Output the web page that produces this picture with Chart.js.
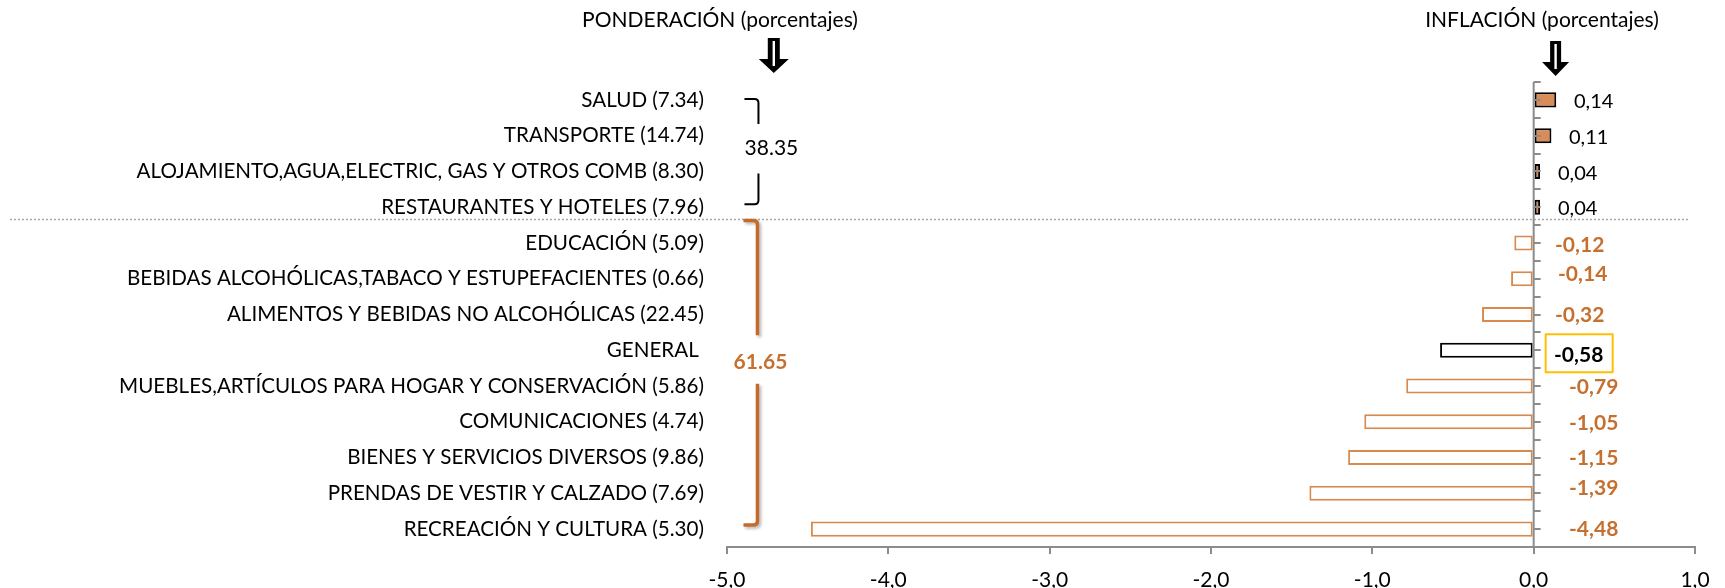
<!DOCTYPE html>
<html>
<head>
<meta charset="utf-8">
<script src="https://cdn.jsdelivr.net/npm/chart.js@4"></script>
<style>
  html, body { margin: 0; padding: 0; background: #fff; }
  #wrap { width: 1725px; height: 588px; position: relative; }
</style>
</head>
<body>
<div id="wrap"><canvas id="c" width="1725" height="588"></canvas></div>
<script>
// ---- data ----
const categories = [
  "SALUD (7.34)",
  "TRANSPORTE (14.74)",
  "ALOJAMIENTO,AGUA,ELECTRIC, GAS Y OTROS COMB (8.30)",
  "RESTAURANTES Y HOTELES (7.96)",
  "EDUCACIÓN (5.09)",
  "BEBIDAS ALCOHÓLICAS,TABACO Y ESTUPEFACIENTES (0.66)",
  "ALIMENTOS Y BEBIDAS NO ALCOHÓLICAS (22.45)",
  "GENERAL ",
  "MUEBLES,ARTÍCULOS PARA HOGAR Y CONSERVACIÓN (5.86)",
  "COMUNICACIONES (4.74)",
  "BIENES Y SERVICIOS DIVERSOS (9.86)",
  "PRENDAS DE VESTIR Y CALZADO (7.69)",
  "RECREACIÓN Y CULTURA (5.30)"
];
const inflation = [0.14, 0.11, 0.04, 0.04, -0.12, -0.14, -0.32, -0.58, -0.79, -1.05, -1.15, -1.39, -4.48];
const generalIndex = 7;
const xTicksMin = -5;
const xTicksMax = 1;
const groupUpperTotal = "38.35";
const groupLowerTotal = "61.65";
const titleLeft = "PONDERACIÓN (porcentajes)";
const titleRight = "INFLACIÓN (porcentajes)";

// ---- styles ----
const FONT = "Lato, 'Open Sans', 'Liberation Sans', sans-serif";
const ORANGE_FILL = '#D98C57';
const ORANGE_LINE = '#D88A4E';
const ORANGE_TEXT = '#C5702F';
const ORANGE_BRACKET = '#C46B2C';
const AXIS_GRAY = '#8c8c8c';

const fmt = v => v.toFixed(2).replace('.', ',');

const bg = inflation.map((v, i) => i === generalIndex ? '#ffffff' : (v >= 0 ? ORANGE_FILL : '#ffffff'));
const bd = inflation.map((v, i) => i === generalIndex ? '#000000' : (v >= 0 ? '#000000' : ORANGE_LINE));

// label offsets (pixels, from zero line / row centre) for data labels
const labelOffsets = [[60,2],[55,2],[44,2],[44,1],[46,2],[49,-4],[46,1],[45,5],[60,1],[60,1],[60,1],[60,-5],[60,0]];

const overlay = {
  id: 'overlay',
  afterDatasetsDraw(chart) {
    const ctx = chart.ctx;
    const xs = chart.scales.x, ys = chart.scales.y;
    const area = chart.chartArea;
    const x0 = xs.getPixelForValue(0);
    ctx.save();

    // zero axis line with ticks
    ctx.strokeStyle = AXIS_GRAY;
    ctx.lineWidth = 2;
    ctx.beginPath();
    ctx.moveTo(x0, area.top);
    ctx.lineTo(x0, area.bottom);
    for (let k = 0; k <= categories.length * 2; k++) {
      const y = Math.round(ys.getPixelForValue(-0.5 + k / 2));
      ctx.moveTo(x0, y);
      ctx.lineTo(x0 + 7, y);
    }
    ctx.stroke();

    // dotted separator
    const sepY = ys.getPixelForValue(3.5) - 5.5;
    ctx.strokeStyle = '#a6a6a6';
    ctx.lineWidth = 1.5;
    ctx.setLineDash([2, 2]);
    ctx.beginPath();
    ctx.moveTo(10, sepY);
    ctx.lineTo(xs.getPixelForValue(0.96), sepY);
    ctx.stroke();
    ctx.setLineDash([]);

    // brackets
    const bx = xs.getPixelForValue(-4.805);
    function bracket(x, top, bottom, g1, g2, color, w, hook) {
      const r = 4;
      ctx.strokeStyle = color;
      ctx.lineWidth = w;
      ctx.lineCap = 'butt';
      ctx.lineJoin = 'round';
      ctx.beginPath();
      ctx.moveTo(x - hook, top);
      ctx.lineTo(x - r, top);
      ctx.quadraticCurveTo(x, top, x, top + r);
      ctx.lineTo(x, g1);
      ctx.moveTo(x, g2);
      ctx.lineTo(x, bottom - r);
      ctx.quadraticCurveTo(x, bottom, x - r, bottom);
      ctx.lineTo(x - hook, bottom);
      ctx.stroke();
    }
    const yr = i => ys.getPixelForValue(i);
    bracket(bx, yr(0) - 1, yr(3) - 3, yr(0) + 24, yr(2) + 2, '#000', 2, 14);
    ctx.save();
    ctx.shadowColor = 'rgba(0,0,0,0.28)';
    ctx.shadowBlur = 3;
    ctx.shadowOffsetX = 2;
    ctx.shadowOffsetY = 2;
    bracket(bx - 1, sepY + 1, yr(12) - 4, yr(7) - 15, yr(9) - 38, ORANGE_BRACKET, 3.5, 14);
    ctx.restore();

    ctx.textBaseline = 'middle';
    ctx.textAlign = 'center';
    ctx.fillStyle = '#000';
    ctx.font = '21px ' + FONT;
    ctx.fillText(groupUpperTotal, bx + 13, yr(1) + 13);
    ctx.fillStyle = ORANGE_TEXT;
    ctx.font = 'bold 21px ' + FONT;
    ctx.fillText(groupLowerTotal, bx + 2, yr(7) + 12);

    // titles
    ctx.fillStyle = '#000';
    ctx.font = '21px ' + FONT;
    ctx.fillText(titleLeft, 720, 20);
    ctx.fillText(titleRight, 1542, 20);

    // arrows
    function arrow(cx, top, headStart, tip, shaftW, headW) {
      ctx.fillStyle = '#000';
      ctx.beginPath();
      ctx.moveTo(cx - shaftW / 2, top);
      ctx.lineTo(cx + shaftW / 2, top);
      ctx.lineTo(cx + shaftW / 2, headStart);
      ctx.lineTo(cx + headW / 2, headStart);
      ctx.lineTo(cx, tip);
      ctx.lineTo(cx - headW / 2, headStart);
      ctx.lineTo(cx - shaftW / 2, headStart);
      ctx.closePath();
      ctx.fill();
      ctx.fillStyle = '#fff';
      ctx.fillRect(cx - 1.2, top + 3, 2.4, headStart - top + 4);
    }
    arrow(xs.getPixelForValue(-4.71), 38, 59, 73, 12, 30);
    arrow(xs.getPixelForValue(0.136), 41, 62, 76, 11, 27);

    // data labels
    inflation.forEach((v, i) => {
      const [dx, dy] = labelOffsets[i];
      const cx = x0 + dx, cy = ys.getPixelForValue(i) + dy;
      if (i === generalIndex) {
        ctx.fillStyle = '#fff';
        ctx.fillRect(x0 + 12, ys.getPixelForValue(i) - 16, 67, 38);
        ctx.strokeStyle = '#FFC000';
        ctx.lineWidth = 2;
        ctx.strokeRect(x0 + 12, ys.getPixelForValue(i) - 16, 67, 38);
        ctx.fillStyle = '#000';
        ctx.font = 'bold 21px ' + FONT;
      } else if (v >= 0) {
        ctx.fillStyle = '#000';
        ctx.font = '20px ' + FONT;
      } else {
        ctx.fillStyle = ORANGE_TEXT;
        ctx.font = 'bold 21px ' + FONT;
      }
      ctx.textAlign = 'center';
      ctx.fillText(fmt(v), cx, cy);
    });
    ctx.restore();
  }
};

new Chart(document.getElementById('c'), {
  type: 'bar',
  data: {
    labels: categories,
    datasets: [{
      data: inflation,
      backgroundColor: bg,
      borderColor: bd,
      borderWidth: 2,
      borderSkipped: false,
      barPercentage: 0.42,
      categoryPercentage: 1
    }]
  },
  options: {
    indexAxis: 'y',
    responsive: false,
    animation: false,
    devicePixelRatio: 1,
    layout: { padding: { top: 82, right: 30, left: 0, bottom: 0 } },
    plugins: { legend: { display: false }, tooltip: { enabled: false } },
    scales: {
      x: {
        type: 'linear',
        min: xTicksMin, max: xTicksMax,
        ticks: {
          stepSize: 1,
          color: '#000',
          font: { family: FONT, size: 21 },
          padding: 14,
          callback: v => v.toFixed(1).replace('.', ',')
        },
        grid: { display: true, drawOnChartArea: false, drawTicks: true, tickLength: 7, color: AXIS_GRAY, lineWidth: 2 },
        border: { display: true, color: AXIS_GRAY, width: 2 },
        afterFit: s => { s.height = 41; }
      },
      y: {
        type: 'category',
        grid: { display: false, drawTicks: false },
        border: { display: false },
        ticks: {
          color: '#000',
          font: { family: FONT, size: 20.6 },
          padding: 23,
          autoSkip: false
        },
        afterFit: s => { s.width = 727; }
      }
    }
  },
  plugins: [overlay]
});
</script>
</body>
</html>
